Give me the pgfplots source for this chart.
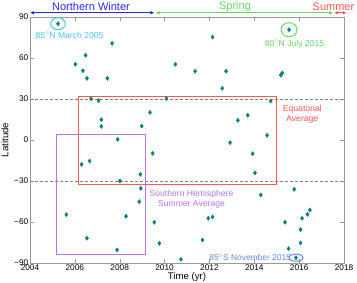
\documentclass[border=0pt]{standalone}
\usepackage{pgfplots}
\pgfplotsset{compat=1.18}
\usepackage{fontspec}
\setmainfont{Liberation Sans}
\usetikzlibrary{arrows.meta}
\definecolor{pt}{RGB}{0,128,128}
\definecolor{cyanA}{RGB}{70,200,245}
\definecolor{greenA}{RGB}{100,215,100}
\definecolor{redA}{RGB}{255,85,85}
\definecolor{purpA}{RGB}{185,115,230}
\definecolor{blueA}{RGB}{40,40,240}
\definecolor{blueB}{RGB}{100,135,240}
\pgfplotstableread{
x y
2005.25 85.1
2007.66 70.7
2006.48 62
2006.02 55.4
2006.36 50.7
2006.54 45.1
2007.45 45.1
2012.14 75.3
2010.48 55.4
2011.36 50.3
2012.74 50.3
2012.57 37.8
2010.08 30.3
2015.55 80.7
2015.18 47.5
2015.25 49
2006.72 30.2
2007.06 28.8
2007.18 14.9
2007.18 10
2007.91 0.5
2006.30 -17.8
2006.66 -15.4
2008.01 -30
2005.62 -54.6
2008.28 -55.8
2006.54 -71.9
2007.88 -80.5
2009.35 20.2
2008.98 10.2
2013.27 14.4
2012.92 -1.9
2009.47 -9.8
2008.92 -25.1
2008.94 -35.4
2008.87 -45.1
2009.54 -60.2
2009.77 -75.6
2010.73 -87.3
2011.95 -57.3
2012.14 -56.3
2011.69 -73.2
2014.73 28.5
2013.71 18.1
2014.57 3.4
2013.93 -10
2014.03 -24.1
2014.29 -40.2
2015.78 -36.1
2016.48 -51.2
2016.37 -54.4
2016.13 -57.3
2015.37 -60.2
2016.06 -65.6
2016.06 -75.3
2015.53 -79.5
2015.86 -86.1
}\pts
\begin{document}
\begin{tikzpicture}
\begin{axis}[
  width=314pt, height=246pt, scale only axis,
  xmin=2004, xmax=2018, ymin=-90, ymax=90,
  xtick={2004,2006,...,2018},
  xticklabels={2004,2006,2008,2010,2012,2014,2016,2018},
  ytick={-90,-60,-30,0,30,60,90},
  yticklabels={−90,−60,−30,0,30,60,90},
  minor x tick num=3,
  axis line style={gray!80},
  tick style={gray!80},
  tick align=inside,
  major tick length=4pt, minor tick length=2pt,
  ticklabel style={font=\fontsize{8.3}{9}\selectfont},
  xticklabel style={inner sep=1pt, yshift=-1pt},
  yticklabel style={inner sep=1.5pt},
  xlabel={Time (yr)}, ylabel={Latitude},
  label style={font=\fontsize{9.6}{11}\selectfont},
  xlabel style={at={(axis description cs:0.5,-0.057)}, anchor=center},
  ylabel style={at={(axis description cs:-0.08,0.5)}, anchor=center},
  clip=false,
]
\coordinate (SW) at (rel axis cs:0,0);
\coordinate (NE) at (rel axis cs:1,1);
\draw[gray, dashed, dash pattern=on 3pt off 2pt, line width=0.8pt] (axis cs:2004,30) -- (axis cs:2018,30);
\draw[gray, dashed, dash pattern=on 3pt off 2pt, line width=0.8pt] (axis cs:2004,-30) -- (axis cs:2018,-30);
\draw[redA, line width=1pt] (axis cs:2006.15,-32.2) rectangle (axis cs:2015.0,32);
\draw[purpA, line width=1pt] (axis cs:2005.2,-84.1) rectangle (axis cs:2009.13,3.7);
\addplot[only marks, mark=diamond*, mark size=2.1pt, color=pt, mark options={fill=pt, draw=pt}] table[x=x,y=y] {\pts};
\draw[cyanA, line width=1pt] (axis cs:2005.25,85.1) ellipse [x radius=7.3pt, y radius=6pt];
\draw[greenA, line width=1pt] (axis cs:2015.55,80.7) ellipse [x radius=8pt, y radius=7pt];
\draw[blueB, line width=1pt] (axis cs:2015.86,-86.1) ellipse [x radius=7pt, y radius=3.6pt];
\node[text=cyanA, font=\fontsize{8.6}{10}\selectfont] at (axis cs:2005.76,76.8) {85$^{\circ}$N March 2005};
\node[text=greenA, font=\fontsize{8.6}{10}\selectfont] at (axis cs:2015.79,70.2) {80$^{\circ}$N July 2015};
\node[text=blueB, font=\fontsize{8.4}{10}\selectfont, anchor=east, inner sep=0pt] at (axis cs:2015.64,-86.1) {85$^{\circ}$S November 2015};
\node[text=redA, font=\fontsize{8.6}{10}\selectfont, align=center] at (axis cs:2016.14,18.8) {Equatorial\\Average};
\node[text=purpA, font=\fontsize{8.6}{10}\selectfont, align=center] at (axis cs:2011.2,-43.2) {Southern Hemisphere\\Summer Average};
\draw[blueA, line width=1pt, {Latex[length=4pt,width=3.5pt]}-{Latex[length=4pt,width=3.5pt]}] (axis cs:2004,93.1) -- (axis cs:2009.55,93.1);
\draw[greenA, line width=1pt, {Latex[length=4pt,width=3.5pt]}-{Latex[length=4pt,width=3.5pt]}] (axis cs:2009.6,93.1) -- (axis cs:2017.52,93.1);
\draw[redA, line width=1pt, {Latex[length=4pt,width=3.5pt]}-{Latex[length=4pt,width=3.5pt]}] (axis cs:2017.56,93.1) -- (axis cs:2018.12,93.1);
\node[text=blueA, font=\fontsize{11}{12}\selectfont] at (axis cs:2006.72,97.8) {Northern Winter};
\node[text=greenA, font=\fontsize{11}{12}\selectfont] at (axis cs:2013.14,97.8) {Spring};
\node[text=redA, font=\fontsize{11}{12}\selectfont] at (axis cs:2017.53,97.8) {Summer};
\end{axis}
\pgfresetboundingbox
\path ([shift={(-30pt,-20pt)}]SW) rectangle ([shift={(13pt,17pt)}]NE);
\end{tikzpicture}
\end{document}
